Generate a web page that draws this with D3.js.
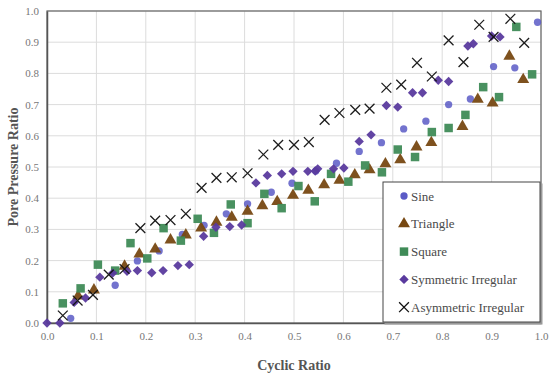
<!DOCTYPE html>
<html>
<head>
<meta charset="utf-8">
<script src="https://cdn.jsdelivr.net/npm/d3@7"></script>
<style>
  body { margin: 0; background: #fff; }
  svg { display: block; }
  svg text { font-family: "Liberation Serif", "DejaVu Serif", serif; }
</style>
</head>
<body>
<svg id="chart" width="550" height="378"></svg>
<script>
// Cyclic ratio / pore pressure ratio pairs
const sineX = [0.048, 0.138, 0.183, 0.227, 0.274, 0.318, 0.363, 0.406, 0.454, 0.496, 0.544, 0.586, 0.632, 0.677, 0.722, 0.767, 0.813, 0.857, 0.904, 0.947, 0.993];
const sineY = [0.015, 0.121, 0.199, 0.231, 0.284, 0.313, 0.350, 0.382, 0.419, 0.448, 0.487, 0.512, 0.550, 0.578, 0.622, 0.647, 0.700, 0.718, 0.822, 0.818, 0.964];

const triX = [0.063, 0.095, 0.157, 0.187, 0.219, 0.250, 0.281, 0.312, 0.343, 0.374, 0.406, 0.436, 0.466, 0.498, 0.529, 0.561, 0.592, 0.623, 0.653, 0.685, 0.715, 0.748, 0.778, 0.841, 0.872, 0.902, 0.936, 0.964];
const triY = [0.086, 0.106, 0.182, 0.221, 0.237, 0.266, 0.282, 0.304, 0.323, 0.339, 0.358, 0.376, 0.389, 0.409, 0.425, 0.443, 0.457, 0.475, 0.491, 0.510, 0.523, 0.564, 0.578, 0.630, 0.717, 0.705, 0.855, 0.780];

const sqX = [0.032, 0.068, 0.103, 0.138, 0.169, 0.203, 0.236, 0.271, 0.305, 0.338, 0.372, 0.406, 0.440, 0.475, 0.509, 0.542, 0.575, 0.610, 0.644, 0.678, 0.710, 0.745, 0.779, 0.813, 0.847, 0.883, 0.915, 0.950, 0.982];
const sqY = [0.063, 0.111, 0.187, 0.168, 0.256, 0.207, 0.304, 0.264, 0.334, 0.289, 0.380, 0.320, 0.414, 0.368, 0.439, 0.390, 0.478, 0.453, 0.505, 0.483, 0.556, 0.532, 0.612, 0.625, 0.667, 0.756, 0.724, 0.949, 0.797];

const symX = [0.000, 0.026, 0.055, 0.078, 0.107, 0.133, 0.162, 0.183, 0.212, 0.235, 0.265, 0.288, 0.317, 0.342, 0.370, 0.394, 0.423, 0.446, 0.475, 0.498, 0.528, 0.543, 0.548, 0.580, 0.601, 0.632, 0.656, 0.687, 0.710, 0.740, 0.760, 0.792, 0.813, 0.852, 0.863, 0.900, 0.917];
const symY = [0.000, 0.000, 0.066, 0.080, 0.147, 0.160, 0.166, 0.168, 0.161, 0.168, 0.184, 0.187, 0.278, 0.307, 0.309, 0.314, 0.449, 0.473, 0.478, 0.486, 0.486, 0.487, 0.494, 0.494, 0.497, 0.582, 0.603, 0.697, 0.692, 0.738, 0.738, 0.778, 0.774, 0.888, 0.895, 0.920, 0.917];

const asymX = [0.032, 0.062, 0.093, 0.125, 0.157, 0.189, 0.219, 0.250, 0.281, 0.313, 0.343, 0.374, 0.406, 0.438, 0.468, 0.500, 0.530, 0.562, 0.592, 0.624, 0.653, 0.687, 0.717, 0.749, 0.779, 0.813, 0.843, 0.875, 0.904, 0.938, 0.966];
const asymY = [0.024, 0.072, 0.090, 0.155, 0.173, 0.304, 0.328, 0.330, 0.350, 0.433, 0.465, 0.467, 0.480, 0.540, 0.571, 0.571, 0.580, 0.651, 0.673, 0.683, 0.687, 0.754, 0.764, 0.834, 0.790, 0.906, 0.836, 0.956, 0.917, 0.975, 0.898];

const ticks = [0, 0.1, 0.2, 0.3, 0.4, 0.5, 0.6, 0.7, 0.8, 0.9, 1.0];

const series = [
  { name: "Sine", xs: sineX, ys: sineY, shape: d3.symbolCircle, size: 42, color: "#5b5bc6" },
  { name: "Triangle", xs: triX, ys: triY, shape: d3.symbolTriangle, size: 62, color: "#774812" },
  { name: "Square", xs: sqX, ys: sqY, shape: d3.symbolSquare, size: 72, color: "#3f8b57" },
  { name: "Symmetric Irregular", xs: symX, ys: symY, shape: d3.symbolSquare, size: 44, color: "#5a3a9e", rot: 45 },
  { name: "Asymmetric Irregular", xs: asymX, ys: asymY, shape: d3.symbolX, size: 64, color: "#111" }
];

const svg = d3.select("#chart");
const margin = { top: 11, right: 9, bottom: 55, left: 47 };
const innerWidth = 550 - margin.left - margin.right;
const innerHeight = 378 - margin.top - margin.bottom;

const xScale = d3.scaleLinear().domain([0, 1]).range([0, innerWidth]);
const yScale = d3.scaleLinear().domain([0, 1]).range([innerHeight, 0]);

const g = svg.append("g")
  .attr("transform", `translate(${margin.left}, ${margin.top})`);

// grid
g.append("g").selectAll("line").data(ticks.slice(1)).enter().append("line")
  .attr("x1", d => xScale(d)).attr("x2", d => xScale(d))
  .attr("y1", 0).attr("y2", innerHeight)
  .attr("stroke", "#dcdcdc").attr("stroke-width", 1);
g.append("g").selectAll("line").data(ticks.slice(1)).enter().append("line")
  .attr("y1", d => yScale(d)).attr("y2", d => yScale(d))
  .attr("x1", 0).attr("x2", innerWidth)
  .attr("stroke", "#dcdcdc").attr("stroke-width", 1);

// frame
g.append("rect").attr("width", innerWidth).attr("height", innerHeight)
  .attr("fill", "none").attr("stroke", "#666").attr("stroke-width", 1.2);

// axes
const xAxis = g.append("g").attr("transform", `translate(0, ${innerHeight})`)
  .call(d3.axisBottom(xScale).tickValues(ticks).tickFormat(d3.format(".1f")).tickSize(0).tickPadding(9));
const yAxis = g.append("g")
  .call(d3.axisLeft(yScale).tickValues(ticks).tickFormat(d3.format(".1f")).tickSize(0).tickPadding(8));
[xAxis, yAxis].forEach(a => {
  a.attr("font-family", null);
  a.select(".domain").attr("stroke", "#555").attr("stroke-width", 1.5);
  a.selectAll("text").attr("fill", "#777").style("font-size", "11px");
});

// points
const symbolPath = s => d3.symbol().type(s.shape).size(s.size)();
const isX = s => s.shape === d3.symbolX;
series.forEach(s => {
  const pts = s.xs.map((x, i) => ({ x: x, y: s.ys[i] }));
  g.append("g").selectAll("path").data(pts).enter().append("path")
    .attr("transform", d => `translate(${xScale(d.x)}, ${yScale(d.y)}) rotate(${s.rot || 0})`)
    .attr("d", symbolPath(s))
    .attr("fill", isX(s) ? "none" : s.color)
    .attr("stroke", isX(s) ? s.color : "none")
    .attr("stroke-width", 1.3)
    .attr("opacity", s.shape === d3.symbolCircle ? 0.85 : 0.95);
});

// legend
const lg = svg.append("g").attr("transform", "translate(383, 182)");
lg.append("rect").attr("x", 1.5).attr("y", 1.5).attr("width", 158).attr("height", 141).attr("fill", "#999");
lg.append("rect").attr("width", 157).attr("height", 140).attr("fill", "#fff")
  .attr("stroke", "#444").attr("stroke-width", 1);
series.forEach((s, i) => {
  const row = lg.append("g").attr("transform", `translate(21, ${14 + i * 27.8})`);
  row.append("path").attr("d", symbolPath(s))
    .attr("transform", `rotate(${s.rot || 0})`)
    .attr("fill", isX(s) ? "none" : s.color)
    .attr("stroke", isX(s) ? s.color : "none")
    .attr("stroke-width", 1.3);
  row.append("text").attr("x", 7).attr("y", 4.5)
    .attr("fill", "#4a4a4a").style("font-size", "13px").text(s.name);
});

// axis titles
svg.append("text").attr("x", margin.left + innerWidth / 2).attr("y", 370)
  .attr("text-anchor", "middle").attr("fill", "#555")
  .style("font-size", "14px").style("font-weight", "bold").text("Cyclic Ratio");
svg.append("text").attr("transform", `translate(18, ${margin.top + innerHeight / 2}) rotate(-90)`)
  .attr("text-anchor", "middle").attr("fill", "#555")
  .style("font-size", "14px").style("font-weight", "bold").text("Pore Pressure Ratio");
</script>
</body>
</html>
